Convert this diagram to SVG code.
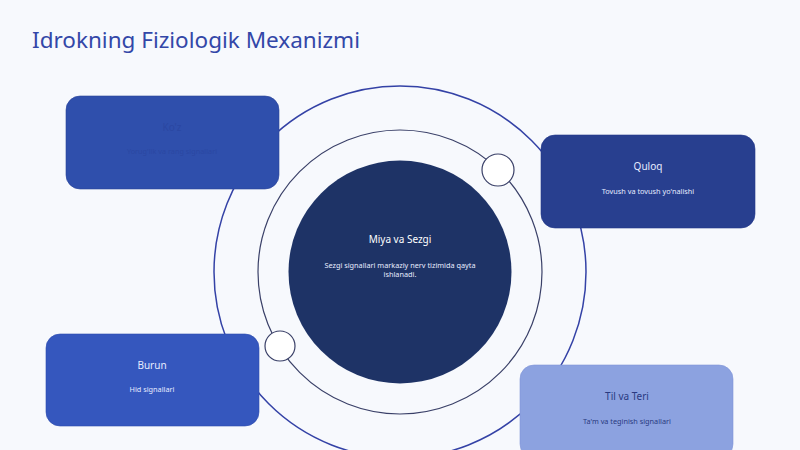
<svg xmlns="http://www.w3.org/2000/svg" width="800" height="450" viewBox="0 0 800 450">
<style>
.t{font-family:"Noto Sans","Open Sans","Liberation Sans",sans-serif;text-anchor:middle}
.h{font-size:10px}
.s{font-size:7.3px}
.lt{fill:#E6ECFF}
.box{stroke-width:0.6}
</style>
<rect width="800" height="450" fill="#F7F9FD"/>
<text x="32" y="48" font-family="'Noto Sans','Open Sans','Liberation Sans',sans-serif" font-size="22.5" fill="#3347A8">Idrokning Fiziologik Mexanizmi</text>
<g id="connectors" fill="none">
<circle cx="400" cy="272" r="186" stroke="#3442A6" stroke-width="1.5"/>
<circle cx="400" cy="272" r="142" stroke="#3A4068" stroke-width="1.2"/>
</g>
<g id="center">
<circle cx="400" cy="272" r="111.5" fill="#1E3366"/>
<text class="t h" x="400" y="243" fill="#FFFFFF">Miya va Sezgi</text>
<text class="t s lt" x="400" y="268">Sezgi signallari markaziy nerv tizimida qayta</text>
<text class="t s lt" x="400" y="277">ishlanadi.</text>
</g>
<g id="dot1"><circle cx="498" cy="170" r="16" fill="#FFFFFF" stroke="#3A4068" stroke-width="1.2"/></g>
<g id="dot2"><circle cx="280" cy="346" r="15" fill="#FFFFFF" stroke="#3A4068" stroke-width="1.2"/></g>
<g id="koz">
<rect class="box" x="66" y="96" width="213" height="93" rx="14" fill="#2F4FAC" stroke="#2A4398"/>
<text class="t h" x="172" y="131" fill="#2B47A2">Ko'z</text>
<text class="t s" x="172" y="154" fill="#2B47A2">Yorug'lik va rang signallari</text>
</g>
<g id="quloq">
<rect class="box" x="541" y="135" width="214" height="93" rx="14" fill="#283F8F" stroke="#22378A"/>
<text class="t h lt" x="648" y="170">Quloq</text>
<text class="t s lt" x="648" y="194">Tovush va tovush yo'nalishi</text>
</g>
<g id="burun">
<rect class="box" x="46" y="334" width="213" height="92" rx="14" fill="#3557BE" stroke="#2E4BAE"/>
<text class="t h lt" x="152" y="369">Burun</text>
<text class="t s lt" x="152" y="392">Hid signallari</text>
</g>
<g id="til">
<rect class="box" x="520" y="365" width="213" height="93" rx="14" fill="#8CA2E0" stroke="#8296D8"/>
<text class="t h" x="627" y="400" fill="#2A3A80">Til va Teri</text>
<text class="t s" x="627" y="424" fill="#2A3A80">Ta'm va teginish signallari</text>
</g>
</svg>
